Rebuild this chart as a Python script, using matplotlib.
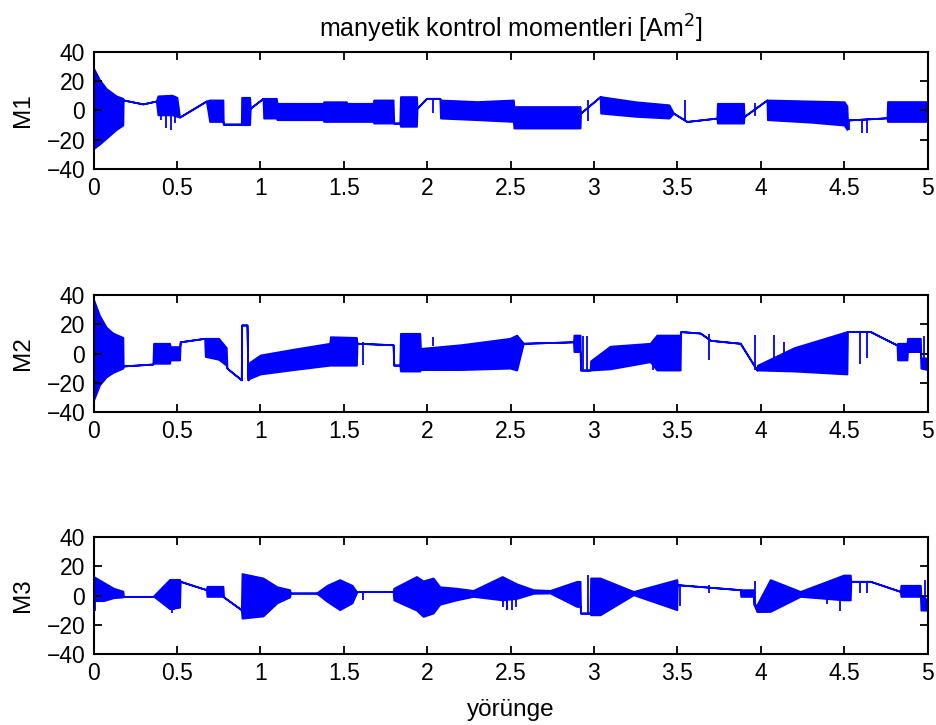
import numpy as np
import matplotlib
matplotlib.use("Agg")
import matplotlib.pyplot as plt

plt.rcParams['font.family'] = ['Liberation Sans', 'DejaVu Sans']

# envelope of each moment signal: x (yorunge), upper, lower  (upper == lower -> plain line)
m1_x = [0.0, 0.036, 0.076, 0.136, 0.176, 0.178, 0.296, 0.376, 0.386, 0.47, 0.50, 0.516, 0.676,
        0.696, 0.776, 0.778, 0.886, 0.888, 0.936, 0.94, 1.016, 1.02, 1.096, 1.10, 1.376, 1.38,
        1.516, 1.52, 1.676, 1.68, 1.796, 1.80, 1.836, 1.84, 1.936, 1.94, 1.996, 2.076, 2.08,
        2.3, 2.517, 2.52, 2.917, 2.92, 3.037, 3.04, 3.25, 3.45, 3.477, 3.557, 3.737, 3.74,
        3.897, 3.90, 4.037, 4.04, 4.3, 4.50, 4.517, 4.52, 4.757, 4.76, 5.0]
m1_hi = [29, 21, 15, 10, 8.3, 7.2, 4.5, 6.5, 10, 10.5, 9, -4.5, 6.5,
         7.2, 7.2, -9.3, -9.3, 9, 9, 1.6, 8.3, 8.3, 8.3, 4.9, 4.9, 6,
         6, 4.9, 4.9, 7.2, 7.2, -8.6, -8.6, 9.5, 9.5, 1.6, 8.3, 8.3, 7.2,
         6.1, 7.2, 2.7, 2.7, -1.8, 9.5, 9.5, 6, 3.9, -1.8, -7.5, -5.2, 4.9,
         4.9, -4.1, 7.2, 7.2, 6.5, 6, 3, -6.5, -5, 6.1, 6.1]
m1_lo = [-26, -23, -19, -13, -10, 7.2, 4.5, 6.5, -3, -3, -4, -4.5, 6.5,
         -7.5, -7.5, -9.3, -9.3, -9.7, -9.7, 1.6, 8.3, -5.2, -5.2, -6.3, -6.3, -7.5,
         -7.5, -7.5, -7.5, -8.6, -8.6, -8.6, -8.6, -10.8, -10.8, 1.6, 8.3, 8.3, -5.2,
         -6.3, -7.5, -12, -12, -1.8, 9.5, -1.8, -4, -5.2, -1.8, -7.5, -5.2, -8.6,
         -8.6, -4.1, 7.2, -6.3, -8, -10, -13, -6.5, -5, -7.5, -7.5]

m2_x = [0.0, 0.036, 0.076, 0.116, 0.176, 0.178, 0.356, 0.36, 0.456, 0.46, 0.516, 0.52, 0.666,
        0.67, 0.75, 0.796, 0.80, 0.886, 0.888, 0.92, 0.926, 0.936, 1.0, 1.2, 1.416, 1.42,
        1.576, 1.58, 1.796, 1.80, 1.836, 1.84, 1.956, 1.96, 2.2, 2.496, 2.537, 2.577, 2.877,
        2.88, 2.917, 2.92, 2.977, 2.98, 3.097, 3.337, 3.377, 3.517, 3.52, 3.637, 3.70, 3.877,
        3.977, 3.98, 4.2, 4.517, 4.52, 4.657, 4.817, 4.82, 4.877, 4.88, 4.957, 4.96, 5.0]
m2_hi = [37, 26, 18, 14, 11, -8.5, -7.2, 7, 7, 4.7, 4.7, 8, 10.4,
         10.4, 10.4, 4, -10, -18, 19.5, 19.5, -18, -6, -1, 3, 7, 11.5,
         11, 7, 6, -7.9, -7.9, 13.8, 13.8, 3.5, 6, 10.4, 12.6, 7, 8,
         12.6, 12.6, -11.3, -11.3, -5, 5, 7, 12.6, 12.6, 15, 14, 9, 7,
         -11.3, -8, 4, 15, 15, 15, 5.8, 7, 7, 10.4, 10.4, -3, -3]
m2_lo = [-32, -21.5, -16, -13, -10, -8.5, -7.2, -6.7, -6.7, -4.4, -4.4, 8, 10.4,
         -2, -4, -8, -10, -18, 19.5, 19.5, -18, -17, -14, -11, -8, -8,
         -8, 7, 6, -7.9, -7.9, -12, -12, -11, -11, -10, -11.3, 7, 8,
         1.3, 1.3, -11.3, -11.3, -11.3, -10.5, -5.6, -11.3, -11.3, 15, 14, 9, 7,
         -11.3, -11.3, -12, -14, 15, 15, 5.8, -4.4, -4.4, 1.3, 1.3, -10, -11]

m3_x = [0.0, 0.06, 0.12, 0.176, 0.18, 0.356, 0.366, 0.456, 0.516, 0.52, 0.676, 0.68, 0.776,
        0.78, 0.886, 0.89, 1.016, 1.10, 1.176, 1.18, 1.336, 1.40, 1.476, 1.55, 1.576, 1.58,
        1.796, 1.80, 1.936, 1.976, 2.036, 2.076, 2.176, 2.276, 2.45, 2.537, 2.637, 2.737,
        2.897, 2.917, 2.92, 2.977, 2.98, 3.037, 3.237, 3.497, 3.50, 3.877, 3.88, 3.957, 3.96,
        3.977, 4.057, 4.237, 4.497, 4.537, 4.54, 4.657, 4.837, 4.84, 4.957, 4.96, 5.0]
m3_hi = [13, 9, 5, 3, -0.6, -0.6, 0.5, 11, 11, 9.7, 4, 6.3, 6.3,
         -1, -9.7, 15, 12, 6, 4, 1.7, 1.7, 7, 10.9, 7, 2.8, 2.8,
         2.8, 5, 13, 10, 12, 6, 5, 3.5, 13, 8, 4, 3.5,
         9.7, 9.7, -12, -12, 12, 12, 2.8, 10.9, 7.4, 4, 4, 4, -6.3,
         -6.3, 10.9, 2.8, 14, 14, 9.7, 9.7, 2.8, 7, 7, 0, -3]
m3_lo = [-3.5, -3.5, -1.5, -1, -0.6, -0.6, -1, -9, -8, 9.7, 4, -0.6, -0.6,
         -1, -9.7, -15.5, -14, -5, -1, 1.7, 1.7, -4, -9.7, -5, 1.7, 2.8,
         2.8, -3, -10, -14.3, -12, -6, -3, -0.6, -3, -2, 1.5, 1.7,
         -7.5, -7.5, -12, -12, -13.2, -13.2, 0.5, -9.7, 7.4, 4, -0.6, -0.6, -6.3,
         -11, -10.9, -0.6, -3, -3, 9.7, 9.7, 2.8, -0.6, -0.6, -10, -10]

# isolated switching spikes: x, from, to
m1_spk_x = [0.406, 0.436, 0.466, 0.49, 2.036, 2.967, 3.547, 3.967, 4.527, 4.607, 4.637, 4.997]
m1_spk_a = [-3, -3, -3, -3, 8.3, 7, -7.5, -4, -6.5, -6.5, -6.5, -7]
m1_spk_b = [-6.3, -12, -13.1, -8.6, -1.8, -7.5, 7.2, 5, -13, -15.5, -15.5, 6]

m2_spk_x = [1.616, 2.036, 2.937, 2.957, 3.357, 3.687, 3.967, 4.077, 4.137, 4.597, 4.637, 4.977]
m2_spk_a = [8, 11.5, 12, 12, -11, 13, 12.6, 12.6, 8, 15, 15, 12]
m2_spk_b = [-7.9, 5, -11, -11, 7, -4.4, -11, -8, -6, -7, -3, -10]

m3_spk_x = [0.006, 0.47, 0.48, 1.616, 2.476, 2.457, 2.48, 2.51, 2.53, 2.967, 3.517, 3.687,
            3.967, 4.397, 4.477, 4.597, 4.637, 4.987]
m3_spk_a = [5, 5, 5, 2.8, 0, 0, 0, 0, 0, -12, 7.4, 7.4, -6.3, 0, 0, 9.7, 9.7, -6]
m3_spk_b = [-10.5, -12, -10, -2.9, -10, -8, -10, -10, -8, 14, -7.5, 1.7, 9.7, -6, -10.9, 1.7, 1.7, 10.9]

signals = [
    ("M1", m1_x, m1_hi, m1_lo, m1_spk_x, m1_spk_a, m1_spk_b),
    ("M2", m2_x, m2_hi, m2_lo, m2_spk_x, m2_spk_a, m2_spk_b),
    ("M3", m3_x, m3_hi, m3_lo, m3_spk_x, m3_spk_a, m3_spk_b),
]

fig = plt.figure(figsize=(9.37, 7.25), dpi=100)
bottoms = [0.7669, 0.4317, 0.0979]
blue = "#0000ff"

axes = []
for (name, x, hi, lo, sx, sa, sb), b in zip(signals, bottoms):
    ax = fig.add_axes([0.0998, b, 0.8901, 0.1614])
    ax.fill_between(x, hi, lo, color=blue, edgecolor=blue, linewidth=1.3)
    ax.vlines(sx, sa, sb, color=blue, linewidth=1.3)
    ax.set_xlim(0, 5)
    ax.set_ylim(-40, 40)
    ax.set_xticks(np.arange(0, 5.01, 0.5))
    ax.set_xticklabels(["0", "0.5", "1", "1.5", "2", "2.5", "3", "3.5", "4", "4.5", "5"])
    ax.set_yticks([-40, -20, 0, 20, 40])
    ax.tick_params(direction="in", top=True, right=True, length=6, width=1.3,
                   labelsize=16.5, pad=6)
    for s in ax.spines.values():
        s.set_linewidth(1.5)
    ax.set_ylabel(name, fontsize=17.5, labelpad=9)
    axes.append(ax)

axes[0].set_title("manyetik kontrol momentleri [Am$^2$]", fontsize=18, pad=10)
axes[2].set_xlabel("yörünge", fontsize=17.5, labelpad=10)

fig.savefig("out.png", dpi=100)
